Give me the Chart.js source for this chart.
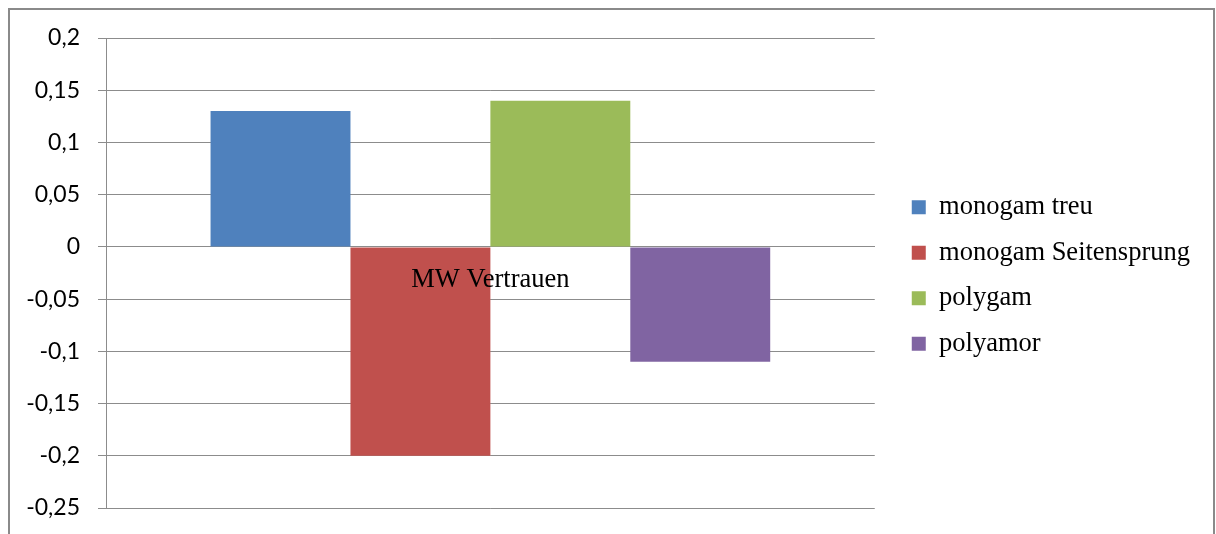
<!DOCTYPE html>
<html>
<head>
<meta charset="utf-8">
<script src="https://cdn.jsdelivr.net/npm/chart.js@4.4.1/dist/chart.umd.min.js"></script>
<style>
  html, body { margin: 0; padding: 0; background: #fff; }
  #wrap { position: relative; width: 1216px; height: 534px; overflow: hidden; }
  #frame { position: absolute; left: 8px; top: 8px; width: 1203px; height: 600px;
           border: 2px solid #8a8a8a; box-sizing: content-box; }
  #c { position: absolute; left: 0; top: 0; }
</style>
</head>
<body>
<div id="wrap">
  <div id="frame"></div>
  <canvas id="c" width="1216" height="534"></canvas>
</div>
<script>
// Mean trust value per relationship type
const categories = ['MW Vertrauen'];
const seriesNames = ['monogam treu', 'monogam Seitensprung', 'polygam', 'polyamor'];
const monogamTreu = [0.13];
const monogamSeitensprung = [-0.2];
const polygam = [0.14];
const polyamor = [-0.11];
const seriesColors = ['#4F81BD', '#C0504D', '#9BBB59', '#8064A2'];
const yTickValues = [-0.25, -0.2, -0.15, -0.1, -0.05, 0, 0.05, 0.1, 0.15, 0.2];
const yTickLabels = ['-0,25', '-0,2', '-0,15', '-0,1', '-0,05', '0', '0,05', '0,1', '0,15', '0,2'];

const seriesValues = [monogamTreu, monogamSeitensprung, polygam, polyamor];
const gridGray = '#8c8c8c';
const serif = '"Liberation Serif", "Times New Roman", serif';

new Chart(document.getElementById('c'), {
  type: 'bar',
  data: {
    labels: categories,
    datasets: seriesNames.map((name, i) => ({
      label: name,
      data: seriesValues[i],
      backgroundColor: seriesColors[i],
      borderWidth: 0,
      categoryPercentage: 0.728,
      barPercentage: 1
    }))
  },
  options: {
    responsive: false,
    animation: false,
    devicePixelRatio: 1,
    layout: { padding: { left: 10, top: 38, right: 16, bottom: 26 } },
    plugins: {
      tooltip: { enabled: false },
      legend: {
        position: 'right',
        align: 'center',
        maxWidth: 420,
        // empty, tiny title: only nudges the entries a few pixels down
        title: { display: true, text: '', font: { size: 1 }, padding: { top: 4, bottom: 0 } },
        labels: {
          boxWidth: 14,
          boxHeight: 14,
          padding: 19,
          color: '#000',
          font: { family: serif, size: 26.5 }
        }
      }
    },
    scales: {
      x: {
        type: 'category',
        position: { y: 0 },
        grid: { display: false, drawTicks: false },
        border: { display: true, color: gridGray, width: 1 },
        ticks: { z: 1, color: '#000', padding: 17, font: { family: serif, size: 26.5 } }
      },
      y: {
        type: 'linear',
        position: 'left',
        min: -0.25,
        max: 0.2,
        afterBuildTicks: (s) => { s.ticks = yTickValues.map(v => ({ value: v })); },
        afterFit: (s) => { s.width = 96; s.paddingTop = 0; s.paddingBottom = 0; },
        grid: { color: gridGray, lineWidth: 1, tickLength: 8, drawTicks: true },
        border: { display: true, color: gridGray, width: 1 },
        ticks: {
          color: '#000',
          padding: 18,
          font: { family: 'Lato, "Open Sans", sans-serif', size: 23 },
          callback: (v, i) => yTickLabels[i]
        }
      },
      gap: {
        type: 'linear',
        position: 'right',
        display: true,
        grid: { display: false, drawTicks: false },
        border: { display: false },
        ticks: { display: false },
        afterFit: (s) => { s.width = 18; }
      }
    }
  }
});
</script>
</body>
</html>
